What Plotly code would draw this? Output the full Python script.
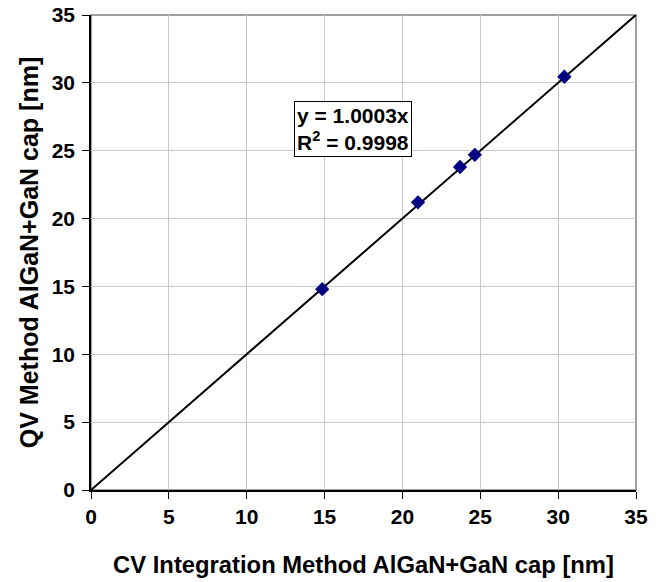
import plotly.graph_objects as go

cv_nm = [14.85, 21.0, 23.7, 24.65, 30.4]
qv_nm = [14.8, 21.2, 23.8, 24.7, 30.45]
fit_slope = 1.0003
fit_r2 = 0.9998
fit_x = [0, 35]
ticks = [0, 5, 10, 15, 20, 25, 30, 35]

FONT = "Liberation Sans, Arial, sans-serif"
TICKFONT = dict(family=FONT, size=21, color="black", weight="bold")

fig = go.Figure()
fig.add_trace(go.Scatter(
    x=fit_x, y=[fit_slope * v for v in fit_x], mode="lines",
    line=dict(color="black", width=2), showlegend=False, hoverinfo="skip"))
fig.add_trace(go.Scatter(
    x=cv_nm, y=qv_nm, mode="markers",
    marker=dict(symbol="diamond", size=11, color="#000080",
                line=dict(color="#000080", width=0)),
    showlegend=False))

axis_common = dict(
    range=[0, 35], tickvals=ticks, ticktext=[f"<b>{t}</b>" for t in ticks],
    showgrid=True, gridcolor="#c8c8c8", gridwidth=1,
    showline=True, linecolor="black", linewidth=1.5,
    ticks="outside", ticklen=7, tickcolor="black", tickwidth=1,
    zeroline=False, mirror=False, automargin=False,
    tickfont=TICKFONT,
)

fig.update_layout(
    width=662, height=582,
    margin=dict(l=91, r=26, t=15, b=92),
    paper_bgcolor="white", plot_bgcolor="white",
    xaxis=dict(**axis_common,
               title=dict(text="CV Integration Method AlGaN+GaN cap [nm]",
                          font=dict(family=FONT, size=23.8, color="black", weight="bold"),
                          standoff=29)),
    yaxis=dict(**axis_common, ticklabelstandoff=3,
               title=dict(text="QV Method AlGaN+GaN cap [nm]",
                          font=dict(family=FONT, size=25, color="black", weight="bold"),
                          standoff=6)),
    font=dict(family=FONT),
    shapes=[dict(type="rect", xref="paper", yref="paper", x0=0, y0=0, x1=1, y1=1,
                 line=dict(color="#808080", width=1.5), layer="below")],
    annotations=[dict(
        x=16.8, y=26.6, xref="x", yref="y", showarrow=False,
        text="y = 1.0003x<br>R<sup>2</sup> = 0.9998",
        font=dict(family=FONT, size=21, color="black", weight="bold"), align="left",
        bordercolor="black", borderwidth=1, bgcolor="white", borderpad=2)],
)

fig.write_html("out.html")
